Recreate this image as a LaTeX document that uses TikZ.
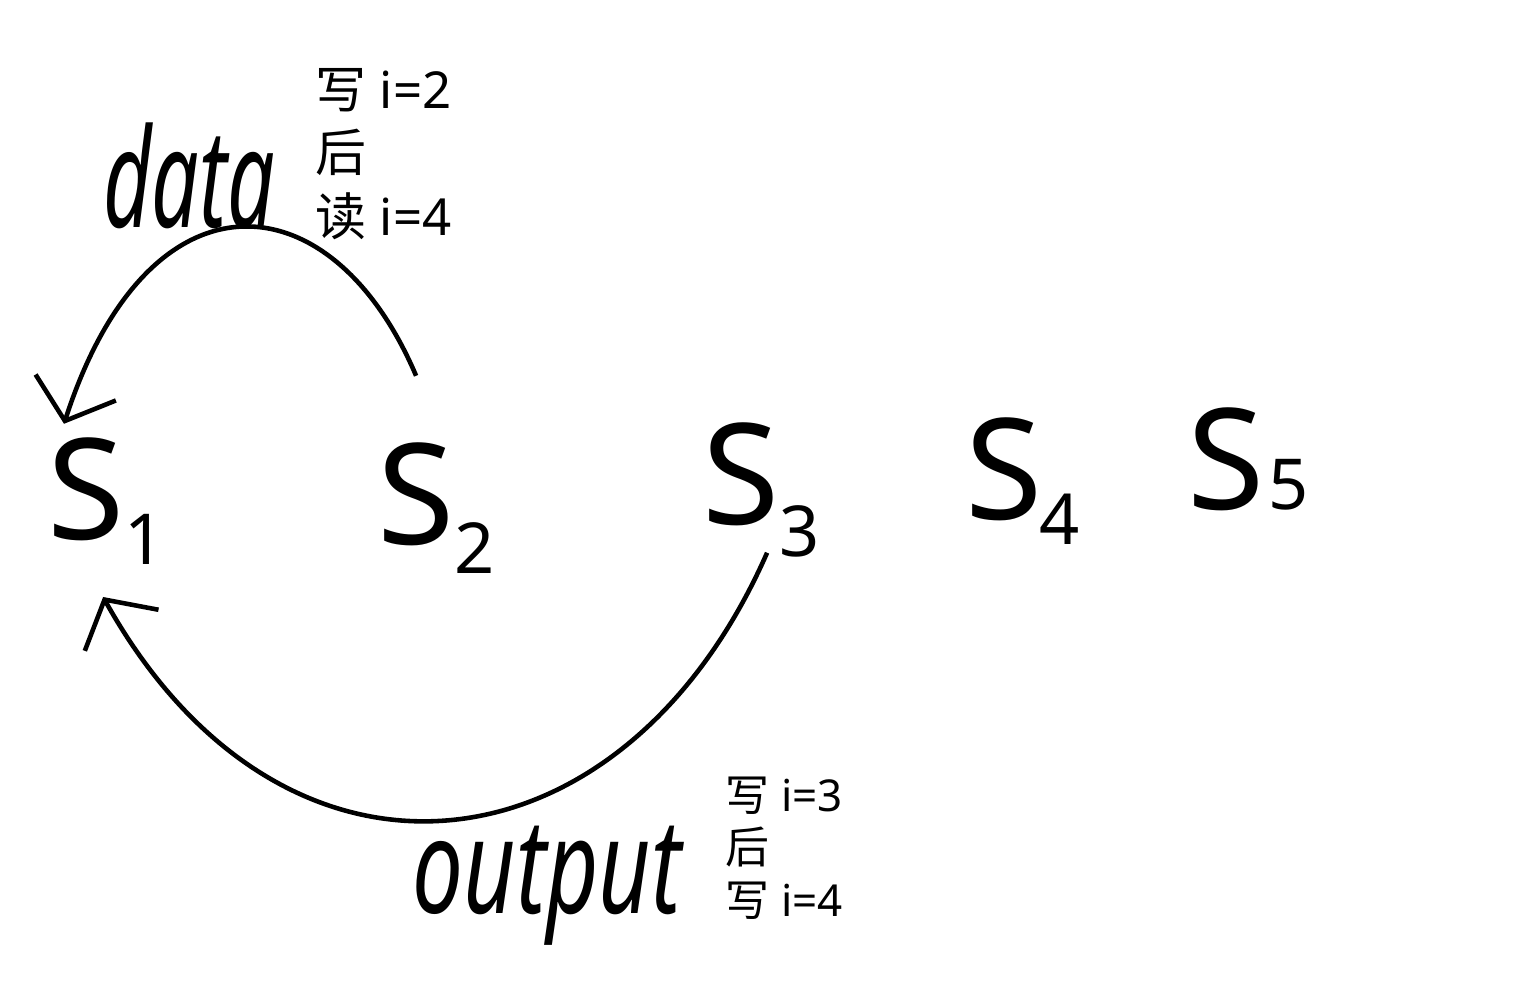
\documentclass[tikz,border=0pt]{standalone}
\usepackage{fontspec}
\setmainfont{Noto Sans}
\newfontfamily\cjk{Noto Sans CJK SC}
\usetikzlibrary{arrows.meta}
\tikzset{
  state/.style={anchor=base west, inner sep=3.33pt, font=\fontsize{40}{40}\selectfont},
  lbl/.style={font=\itshape\fontsize{28}{28}\selectfont, inner sep=0pt},
  note/.style={align=left, anchor=north west, inner sep=0pt},
  flow/.style={line width=1.3pt, -{Straight Barb[length=10pt,width=24pt,line width=1.3pt]}}
}
\newcommand{\subn}[3]{S\kern#1\raisebox{#2}{\fontsize{20}{20}\selectfont #3}}
\begin{document}
\begin{tikzpicture}
\useasboundingbox (0,0) rectangle (15.22,10);
\node[state] (S1) at (0.35,4.60) {\subn{0pt}{-7pt}{1}};
\node[state] (S2) at (3.65,4.55) {\subn{0pt}{-8pt}{2}};
\node[state] (S3) at (6.90,4.75) {\subn{0pt}{-9pt}{3}};
\node[state] (S4) at (9.53,4.80) {\subn{-1pt}{-7pt}{4}};
\node[state] (S5) at (11.75,4.90) {\subn{1pt}{0pt}{5}};

\node[lbl] (data) at (1.89,8.24) {\scalebox{0.85}[1.4]{data}};
\node[lbl] (output) at (5.47,1.14) {\scalebox{0.92}[1.35]{output}};

\node[note, font=\fontsize{14.5}{18}\selectfont] (n1) at (3.15,9.32)
  {{\cjk 写} i=2\\{\cjk 后}\\{\cjk 读} i=4};
\node[note, font=\fontsize{12.5}{15}\selectfont] (n2) at (7.25,2.24)
  {{\cjk 写} i=3\\{\cjk 后}\\{\cjk 写} i=4};

\draw[flow] ([xshift=-0.20cm,yshift=0.55cm]S2.north)
  .. controls +(-0.85,2.00) and +(0.84,2.60) .. ([xshift=0.29cm,yshift=0.02cm]S1.north west);
\draw[flow] ([xshift=0.06cm,yshift=0.17cm]S3.south)
  .. controls +(-1.45,-3.30) and +(1.80,-3.23) .. ([xshift=-0.03cm,yshift=-0.20cm]S1.south);
\end{tikzpicture}
\end{document}
